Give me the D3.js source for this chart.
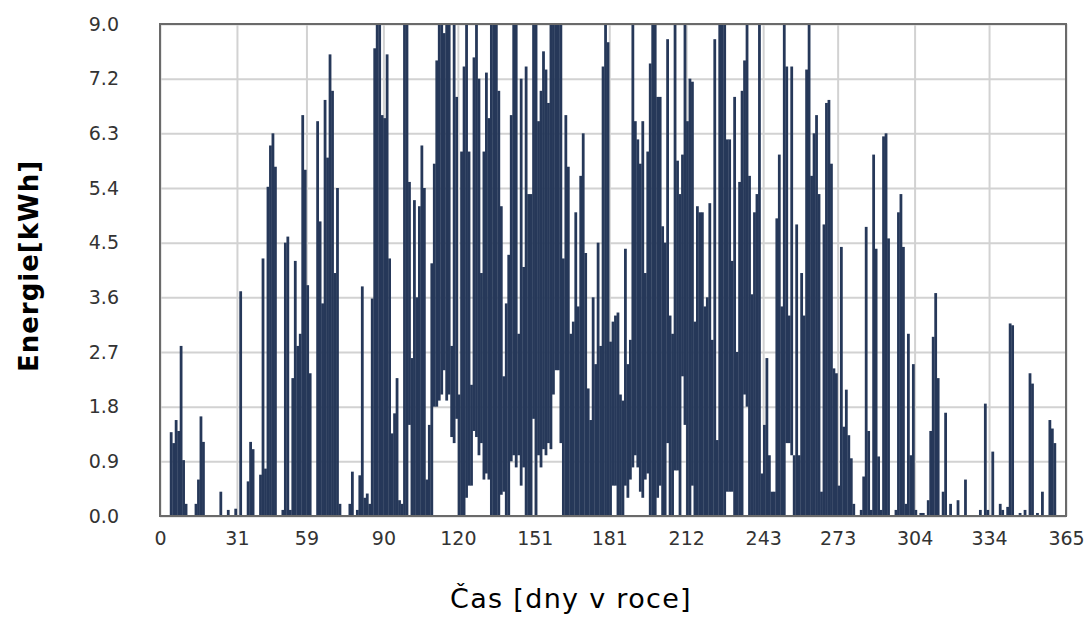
<!DOCTYPE html>
<html>
<head>
<meta charset="utf-8">
<script src="https://cdn.jsdelivr.net/npm/d3@7"></script>
<style>
  body { margin: 0; background: #fff; }
  svg { display: block; }
</style>
</head>
<body>
<div id="chart"></div>
<script>
// daily peak energy [kWh], day 0..364
var peak = [
  0,0,0,0,1.38,1.2,1.58,1.4,2.8,0.92,
  0.2,0,0,0,0.2,0.6,1.64,1.22,0,0,
  0,0,0,0,0.4,0,0,0.1,0,0,
  0.12,0,3.7,0,0,0.57,1.22,1.1,0,0,
  0.68,4.24,0.78,5.42,6.1,6.3,5.75,0,0,0.1,
  4.5,4.6,0.1,2.27,4.2,2.8,3.0,6.6,5.7,3.8,
  2.35,0,0,6.5,4.85,3.5,6.85,5.9,7.6,7.0,
  4.0,5.4,0.2,0,0,0,0.2,0.73,0,0.1,
  0.67,3.78,0.3,0.37,0.2,3.58,7.7,8.5,8.5,6.6,
  6.55,7.6,4.24,1.36,1.69,2.27,0.26,0.2,8.5,8.5,
  5.5,2.6,5.2,3.6,5.1,6.1,5.4,0.6,1.5,4.16,
  5.8,7.5,8.5,8.5,7.95,8.5,8.5,2.8,8.5,6.9,
  2.0,6.0,7.4,8.5,6.0,2.16,7.55,8.5,7.2,4.0,
  6.0,7.3,6.55,8.5,8.5,8.5,7.0,5.1,2.3,3.5,
  4.3,6.6,8.5,8.5,3.0,7.2,4.1,7.4,5.3,5.3,
  8.5,8.5,6.5,7.0,7.65,7.35,6.8,8.5,8.5,8.5,
  8.5,8.5,4.24,6.6,5.75,3.0,3.2,5.0,3.45,5.6,
  6.3,4.33,2.1,1.58,3.6,2.5,4.5,2.8,7.4,8.5,
  7.8,2.87,3.2,3.3,3.35,2.0,1.9,4.4,2.5,2.9,
  8.5,6.5,6.2,5.8,6.5,4.0,6.0,7.45,8.5,8.5,
  6.9,6.9,4.77,4.5,7.85,3.3,3.0,8.5,5.85,5.3,
  5.95,8.5,6.5,7.2,7.15,3.2,5.1,5.0,5.0,3.45,
  3.6,5.15,2.9,7.85,1.25,8.5,8.5,8.5,6.2,6.2,
  4.2,6.9,2.7,5.5,7.0,7.5,8.5,5.6,3.65,5.0,
  5.3,8.5,0.7,1.5,2.6,1.0,0.4,0.4,4.9,5.95,
  3.45,8.5,7.4,3.3,7.4,1.0,4.8,1.0,4.0,3.3,
  7.35,8.5,5.6,6.3,6.6,5.3,0.4,4.8,6.8,6.85,
  5.8,2.43,2.35,0.5,4.43,1.47,2.08,1.33,0.95,0.2,
  0,0,0.1,0.65,4.76,1.4,0.1,5.95,4.4,0.98,
  0.1,6.25,6.3,4.57,0,0,0.1,5.0,5.3,4.43,
  0.2,3.0,1.0,2.5,0.1,0,0.05,0.05,0,0.26,
  1.4,2.95,3.67,2.27,0,0.4,1.7,0,0.2,0,
  0,0.26,0,0,0.6,0,0,0,0,0,
  0.1,0,1.85,0.1,0,1.06,0,0,0.2,0.1,
  0,0.15,3.17,3.14,0,0,0.05,0,0.1,0,
  2.35,2.18,0,0.05,0,0.4,0,0,1.58,1.44,
  1.2,0,0,0,0
];

// days where the dark band does not reach zero, and its lower edge
var baseDays = [100,110,111,112,113,114,115,116,117,118,119,123,124,125,126,127,128,129,130,131,132,137,138,
  141,142,143,144,145,146,150,152,153,154,155,156,157,158,159,160,161,182,183,187,188,189,190,191,192,193,194,
  195,196,200,201,204,207,208,210,211,214,228,229,230,235,236,252,253,254];
var baseValues = [1.5,1.8,1.8,1.9,2.0,2.4,1.9,2.0,1.3,1.2,1.6,0.3,0.5,0.5,1.4,1.3,1.0,1.2,0.6,0.7,0.6,0.35,0.4,
  0.9,1.0,0.8,1.0,0.5,0.8,1.6,1.0,0.8,1.1,1.0,1.2,1.1,2.0,2.4,2.4,1.2,0.5,0.5,0.5,0.3,0.6,0.8,1.0,0.8,0.4,0.3,
  0.6,0.7,0.3,0.5,1.2,0.75,0.75,2.3,1.5,0.5,0.4,0.4,0.4,2.0,1.8,1.2,1.2,1.0];

var xTicks = [0, 31, 59, 90, 120, 151, 181, 212, 243, 273, 304, 334, 365];
var yTicks = [0, 0.9, 1.8, 2.7, 3.6, 4.5, 5.4, 6.3, 7.2, 8.1];
var yTickLabels = ["0.0", "0.9", "1.8", "2.7", "3.6", "4.5", "5.4", "6.3", "7.2", "9.0"];

var margin = {top: 24, right: 25, bottom: 105, left: 160},
    width = 1091 - margin.left - margin.right,
    height = 621 - margin.top - margin.bottom;

var svg = d3.select("#chart")
  .append("svg")
    .attr("width", 1091)
    .attr("height", 621);

var g = svg.append("g")
    .attr("transform", "translate(" + margin.left + "," + margin.top + ")");

var x = d3.scaleLinear().domain([0, 365]).range([0, width]);
var y = d3.scaleLinear().domain([0, 8.1]).range([height, 0]).clamp(true);

// build the bar data
var lowOf = {};
baseDays.forEach(function(d, i) { lowOf[d] = baseValues[i]; });
var data = peak.map(function(v, i) {
  return {day: i, hi: v, lo: lowOf[i] || 0};
});

// horizontal grid + y labels
var yAxis = g.append("g")
  .call(d3.axisLeft(y)
    .tickValues(yTicks)
    .tickSize(-width)
    .tickPadding(41)
    .tickFormat(function(d, i) { return yTickLabels[i]; }));
yAxis.select(".domain").remove();
yAxis.selectAll("line").attr("stroke", "#d2d2d2").attr("stroke-width", 2);
yAxis.selectAll("text")
  .attr("font-family", "DejaVu Sans, sans-serif")
  .attr("font-size", 19)
  .attr("fill", "#333");

// vertical grid + x labels
var xAxis = g.append("g")
  .attr("transform", "translate(0," + height + ")")
  .call(d3.axisBottom(x)
    .tickValues(xTicks)
    .tickSize(-height)
    .tickPadding(16)
    .tickFormat(d3.format("d")));
xAxis.select(".domain").remove();
xAxis.selectAll("line").attr("stroke", "#d2d2d2").attr("stroke-width", 2);
xAxis.selectAll("text")
  .attr("font-family", "DejaVu Sans, sans-serif")
  .attr("font-size", 19)
  .attr("fill", "#333");

// the energy bars (a hair of overlap so neighbours merge)
var step = x(1) - x(0);
g.selectAll(".bar")
  .data(data.filter(function(d) { return d.hi > 0; }))
  .enter()
  .append("rect")
    .attr("class", "bar")
    .attr("x", function(d) { return x(d.day) - 0.15; })
    .attr("width", step + 0.3)
    .attr("y", function(d) { return y(d.hi); })
    .attr("height", function(d) { return Math.max(1, y(d.lo) - y(d.hi)); })
    .attr("fill", "#263859");

// plot frame
g.append("rect")
  .attr("width", width)
  .attr("height", height)
  .attr("fill", "none")
  .attr("stroke", "#6a6a6a")
  .attr("stroke-width", 2);

// axis titles
svg.append("text")
  .attr("transform", "translate(38,266) rotate(-90)")
  .attr("text-anchor", "middle")
  .attr("font-family", "DejaVu Sans, sans-serif")
  .attr("font-weight", "bold")
  .attr("font-size", 26)
  .attr("letter-spacing", 1)
  .attr("fill", "#000")
  .text("Energie[kWh]");

svg.append("text")
  .attr("x", 571)
  .attr("y", 608)
  .attr("text-anchor", "middle")
  .attr("font-family", "DejaVu Sans, sans-serif")
  .attr("font-size", 27)
  .attr("letter-spacing", 1.3)
  .attr("fill", "#000")
  .text("Čas [dny v roce]");
</script>
</body>
</html>
